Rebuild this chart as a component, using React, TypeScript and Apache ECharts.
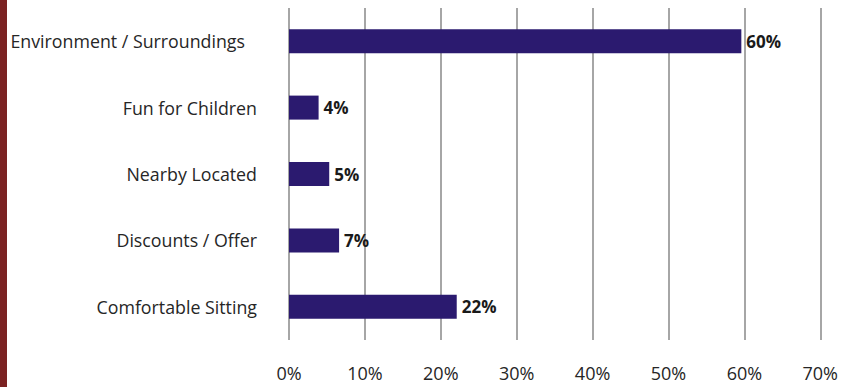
import React, { useEffect, useRef } from "react";
import * as echarts from "echarts";

const categories = [
  "Comfortable Sitting",
  "Discounts / Offer",
  "Nearby Located",
  "Fun for Children",
  "Environment / Surroundings",
];
const values = [22.1, 6.6, 5.3, 3.9, 59.6];
const xTicks = [0, 10, 20, 30, 40, 50, 60, 70];

export default function App() {
  const ref = useRef<HTMLDivElement>(null);
  useEffect(() => {
    if (!ref.current) return;
    const chart = echarts.init(ref.current, null, { renderer: "svg" });
    const font = "'Open Sans', 'Noto Sans', sans-serif";
    chart.setOption({
      animation: false,
      backgroundColor: "#ffffff",
      grid: { left: 289, right: 19, top: 8, bottom: 47, containLabel: false },
      xAxis: {
        type: "value",
        min: xTicks[0],
        max: xTicks[xTicks.length - 1],
        interval: 10,
        axisLine: { show: false },
        axisTick: { show: false },
        axisLabel: {
          formatter: (v: number) => v + "%",
          color: "#262626",
          fontSize: 18,
          fontFamily: font,
          margin: 24,
        },
        splitLine: { show: true, lineStyle: { color: "#a6a6a6", width: 2 } },
      },
      yAxis: {
        type: "category",
        data: categories.map((c) =>
          c === "Environment / Surroundings"
            ? { value: c, textStyle: { padding: [0, 12, 0, 0] } }
            : c
        ),
        axisLine: { show: false },
        axisTick: { show: false },
        axisLabel: {
          color: "#262626",
          fontSize: 17.8,
          fontFamily: font,
          margin: 32,
        },
      },
      series: [
        {
          type: "bar",
          data: values,
          barWidth: 24,
          itemStyle: { color: "#2b1a6f" },
          label: {
            show: true,
            position: "right",
            distance: 5,
            formatter: (p: any) => Math.round(p.value) + "%",
            color: "#1a1a1a",
            fontWeight: "bold",
            fontSize: 17,
            fontFamily: font,
          },
        },
      ],
      graphic: [
        {
          type: "rect",
          left: 0,
          top: 0,
          shape: { width: 7, height: 387 },
          style: { fill: "#7b2222" },
        },
      ],
    });
    return () => chart.dispose();
  }, []);
  return (
    <div
      ref={ref}
      style={{ position: "fixed", left: 0, top: 0, width: 841, height: 387 }}
    />
  );
}
